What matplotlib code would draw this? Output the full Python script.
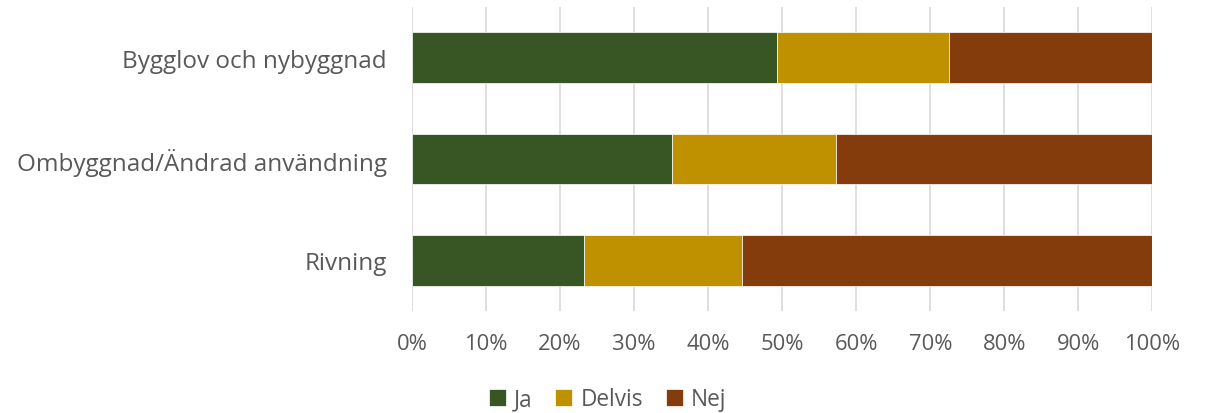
import matplotlib
matplotlib.use("Agg")
import matplotlib.pyplot as plt
import numpy as np

categories = ["Bygglov och nybyggnad", "Ombyggnad/Ändrad användning", "Rivning"]
ja = [49.3, 35.1, 23.3]
delvis = [23.2, 22.2, 21.3]
nej = [27.5, 42.7, 55.4]
series_names = ["Ja", "Delvis", "Nej"]
colors = ["#375623", "#BF9000", "#843C0C"]
xticks = list(range(0, 101, 10))
xticklabels = [f"{t}%" for t in xticks]

plt.rcParams['font.family'] = ['Open Sans', 'DejaVu Sans']
txt = "#595959"

fig = plt.figure(figsize=(12.08, 4.14), dpi=100)
ax = fig.add_axes([0.341, 0.246, 0.613, 0.735])

y = np.arange(len(categories))
left = np.zeros(len(categories))
for vals, name, c in zip([ja, delvis, nej], series_names, colors):
    ax.barh(y, vals, left=left, height=0.5, color=c, label=name,
            edgecolor="white", linewidth=0.5, zorder=3)
    left = left + np.array(vals)

ax.set_ylim(len(categories) - 0.5, -0.5)
ax.set_xlim(0, 100)
ax.set_yticks(y)
ax.set_yticklabels(categories, fontsize=17.5, color=txt)
ax.set_xticks(xticks)
ax.set_xticklabels(xticklabels, fontsize=15.8, color=txt)
ax.tick_params(axis='both', length=0)
ax.tick_params(axis='y', pad=18)
ax.tick_params(axis='x', pad=15.5)
ax.grid(axis='x', color="#D9D9D9", linewidth=1.2, zorder=0)
for s in ax.spines.values():
    s.set_visible(False)

leg = fig.legend(loc='center', bbox_to_anchor=(0.503, 0.033), ncol=3, frameon=False,
                 fontsize=16.3, handlelength=0.75, handleheight=0.75, handletextpad=0.35,
                 columnspacing=1.0)
for t in leg.get_texts():
    t.set_color(txt)

fig.savefig("out.png", dpi=100)
